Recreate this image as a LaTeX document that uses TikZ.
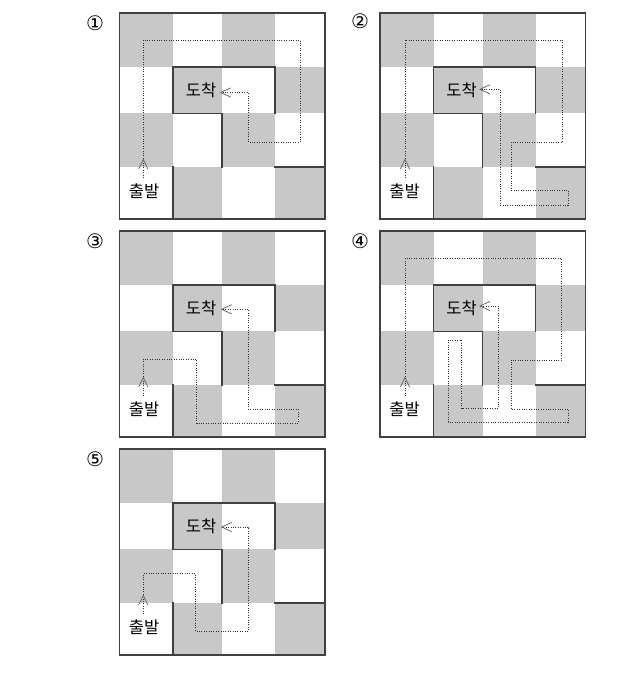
\documentclass[tikz,border=0pt]{standalone}
\usepackage{fontspec}
\newfontfamily\kfont{Noto Sans CJK KR}
\newfontfamily\numfont{DejaVu Sans}
\definecolor{cellgray}{HTML}{C8C8C8}
\definecolor{wallc}{HTML}{404040}
\definecolor{pathc}{HTML}{303030}
\tikzset{
  wall/.style={draw=wallc, line width=1.8pt, line cap=rect, line join=miter},
  border/.style={draw=wallc, line width=1.6pt},
  route/.style={draw=pathc, line width=0.7pt, dash pattern=on 1pt off 1.4pt},
  headln/.style={draw=pathc!75, line width=0.75pt},
  ktext/.style={font=\kfont\fontsize{16.5}{18}\selectfont, inner sep=0pt},
  numlab/.style={font=\numfont\fontsize{20}{22}\selectfont, inner sep=0pt}
}
\newcommand{\mzgrid}[2]{%
  \fill[cellgray] (0,0) rectangle (53.5,53.7);
  \fill[cellgray] (102.5,0) rectangle (155.5,53.7);
  \fill[cellgray] (53.5,53.7) rectangle (102.5,100.4);
  \fill[cellgray] (155.5,53.7) rectangle (205.5,100.4);
  \fill[cellgray] (0,100.4) rectangle (53.5,153.7);
  \fill[cellgray] (102.5,100.4) rectangle (155.5,153.7);
  \fill[cellgray] (53.5,153.7) rectangle (102.5,205.7);
  \fill[cellgray] (155.5,153.7) rectangle (205.5,205.7);
  \draw[wall] (53.5,100.4) -- (53.5,53.7) -- (155.5,53.7) -- (155.5,100.4);
  \draw[wall] (53.5,100.4) -- (102.5,100.4) -- (102.5,153.7);
  \draw[wall] (53.5,153.7) -- (53.5,205.7);
  \draw[wall] (155.5,153.7) -- (205.5,153.7);
  \draw[border] (0,0) rectangle (205.5,205.7);
  \node[ktext] (goal#1) at (81.5,77.5) {도착};
  \node[ktext] (start#1) at (24.5,178.5) {출발};
  \node[numlab] (num#1) at #2 {\ifcase#1\or ①\or ②\or ③\or ④\or ⑤\fi};
}
\newcommand{\goalhead}[2]{\draw[headln] (#1+10,#2-4.6) -- (#1,#2) -- (#1+10,#2+4.6);}
\newcommand{\starthead}[1]{\draw[headln] (#1-4.6,156) -- (#1,146.5) -- (#1+4.6,156);}
\begin{document}
\begin{tikzpicture}[x=1pt,y=-1pt]
\useasboundingbox (0,0) rectangle (624,686);
% maze 1
\begin{scope}[shift={(119.5,13)}]
  \mzgrid{1}{(-24.5,10.5)}
  \draw[route] (23.8,165) -- (23.8,27) -- (180.5,27) -- (180.5,129.3) -- (128.8,129.3) -- (128.8,79.5) -- (101.2,79.5);
  \starthead{23.8}
  \goalhead{101.2}{79.5}
\end{scope}
% maze 2
\begin{scope}[shift={(380,13)}]
  \mzgrid{2}{(-20,8.5)}
  \draw[route] (25,165) -- (25,27) -- (182.3,27) -- (182.3,129.3) -- (131,129.3) -- (131,177) -- (188.3,177) -- (188.3,192) -- (120,192) -- (120,76.3) -- (100,76.3);
  \starthead{25}
  \goalhead{100}{76.3}
\end{scope}
% maze 3
\begin{scope}[shift={(119.5,231)}]
  \mzgrid{3}{(-24.5,10.5)}
  \draw[route] (23.8,165) -- (23.8,128.3) -- (77.2,128.3) -- (77.2,192.3) -- (178.8,192.3) -- (178.8,178.3) -- (128.8,178.3) -- (128.8,78.3) -- (102.2,78.3);
  \starthead{23.8}
  \goalhead{102.2}{78.3}
\end{scope}
% maze 4
\begin{scope}[shift={(380,231)}]
  \mzgrid{4}{(-20,10.5)}
  \draw[route] (25,165) -- (25,27.3) -- (181.7,27.3) -- (181.7,129) -- (131,129) -- (131,178) -- (188.3,178) -- (188.3,191.3) -- (68.3,191.3) -- (68.3,109) -- (81.7,109) -- (81.7,177.3) -- (118.3,177.3) -- (118.3,75) -- (100,75);
  \starthead{25}
  \goalhead{100}{75}
\end{scope}
% maze 5
\begin{scope}[shift={(119.5,449)}]
  \mzgrid{5}{(-24.5,10)}
  \draw[route] (23.8,165) -- (23.8,124.7) -- (76.2,124.7) -- (76.2,182.3) -- (128.8,182.3) -- (128.8,78) -- (102.2,78);
  \starthead{23.8}
  \goalhead{102.2}{78}
\end{scope}
\end{tikzpicture}
\end{document}
